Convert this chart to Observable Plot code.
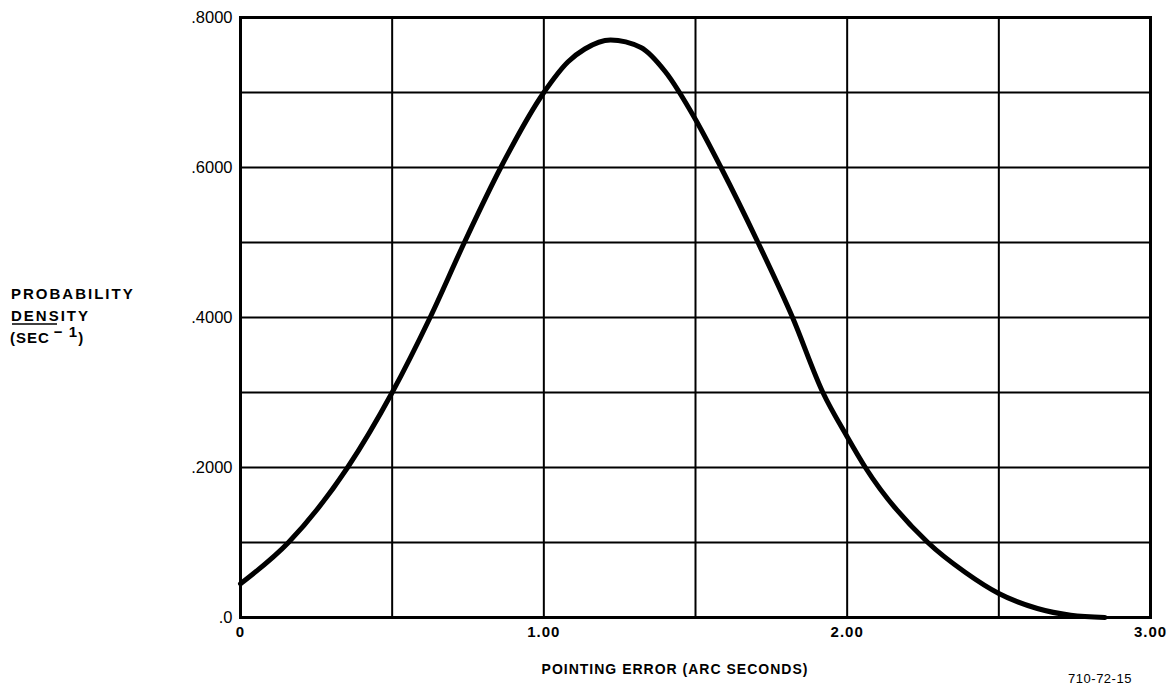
<!DOCTYPE html>
<html>
<head>
<meta charset="utf-8">
<script src="https://cdn.jsdelivr.net/npm/d3@7"></script>
<script src="https://cdn.jsdelivr.net/npm/@observablehq/plot@0.6"></script>
<style>
  html, body { margin: 0; padding: 0; background: #fff; }
  #chart { position: relative; width: 1173px; height: 686px; }
  svg { font-family: "Liberation Sans", Arial, sans-serif; }
  svg g[aria-label="x-axis tick label"] text { font-size: 15px; font-weight: bold; letter-spacing: 1px; }
  svg g[aria-label="y-axis tick label"] text { font-size: 16.5px; }
</style>
</head>
<body>
<div id="chart"></div>
<script>
// Pointing error (arc seconds)
const pointingError = [0, 0.158, 0.353, 0.50, 0.625, 0.738, 0.858, 1.0, 1.08, 1.135, 1.22, 1.32, 1.40, 1.5, 1.584, 1.706, 1.82, 1.92, 2.0, 2.06, 2.266, 2.39, 2.5, 2.627, 2.737, 2.85];
// Probability density (sec^-1)
const density = [0.045, 0.1, 0.2, 0.3, 0.4, 0.5, 0.6, 0.7, 0.741, 0.758, 0.770, 0.760, 0.728, 0.664, 0.6, 0.5, 0.4, 0.3, 0.241, 0.2, 0.1, 0.06, 0.032, 0.012, 0.003, 0.0];

const xGrid = [0.5, 1.0, 1.5, 2.0, 2.5];
const yGrid = [0.1, 0.2, 0.3, 0.4, 0.5, 0.6, 0.7];
const xTicks = [0, 1, 2, 3];
const xTickLabels = ["0", "1.00", "2.00", "3.00"];
const yTicks = [0, 0.2, 0.4, 0.6, 0.8];
const yTickLabels = [".0", ".2000", ".4000", ".6000", ".8000"];

const data = pointingError.map((x, i) => ({x, y: density[i]}));

const chart = Plot.plot({
  width: 1173,
  height: 686,
  marginLeft: 240,
  marginRight: 23,
  marginTop: 17,
  marginBottom: 69,
  style: {color: "#000", background: "#fff"},
  x: {domain: [0, 3], label: null},
  y: {domain: [0, 0.8], label: null},
  marks: [
    Plot.ruleX(xGrid, {stroke: "#000", strokeWidth: 2}),
    Plot.ruleY(yGrid, {stroke: "#000", strokeWidth: 2}),
    Plot.frame({stroke: "#000", strokeWidth: 3}),
    Plot.line(data, {x: "x", y: "y", curve: "monotone-x", stroke: "#000", strokeWidth: 5, strokeLinecap: "round"}),
    Plot.axisX({ticks: xTicks, tickFormat: d => xTickLabels[xTicks.indexOf(d)], tickSize: 0, tickPadding: 9, label: null, fontSize: 15, fontWeight: "bold"}),
    Plot.axisY({ticks: yTicks, tickFormat: d => yTickLabels[yTicks.indexOf(d)], tickSize: 0, tickPadding: 8, label: null, fontSize: 16.5})
  ]
});

document.getElementById("chart").appendChild(chart);

const svg = d3.select(chart);
const g = svg.append("g").attr("fill", "#000").attr("font-weight", "bold").attr("font-size", 15).attr("text-anchor", "start");
g.append("text").attr("x", 11).attr("y", 299).attr("letter-spacing", 2).text("PROBABILITY");
g.append("text").attr("x", 11).attr("y", 321).attr("letter-spacing", 2).text("DENSITY");
const sec = g.append("text").attr("x", 10).attr("y", 343).attr("letter-spacing", 1);
sec.append("tspan").text("(SEC");
sec.append("tspan").attr("dx", 4).attr("dy", -6).text("− 1");
sec.append("tspan").attr("dy", 6).text(")");
svg.append("line").attr("x1", 12).attr("x2", 57).attr("y1", 324).attr("y2", 324).attr("stroke", "#000").attr("stroke-width", 1.5);

svg.append("text").attr("x", 675).attr("y", 674).attr("text-anchor", "middle")
  .attr("font-weight", "bold").attr("font-size", 14).attr("letter-spacing", 1).text("POINTING ERROR (ARC SECONDS)");
svg.append("text").attr("x", 1100).attr("y", 683).attr("text-anchor", "middle")
  .attr("font-size", 13).attr("letter-spacing", 0.5).text("710-72-15");
</script>
</body>
</html>
